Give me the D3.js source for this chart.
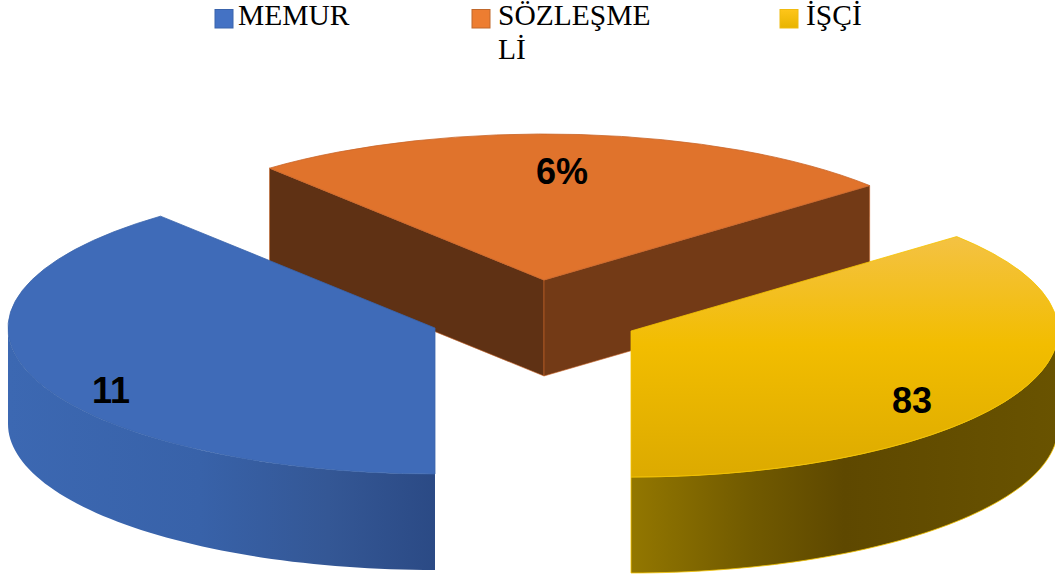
<!DOCTYPE html>
<html>
<head>
<meta charset="utf-8">
<script src="https://cdn.jsdelivr.net/npm/d3@7"></script>
<style>
  html, body { margin: 0; padding: 0; background: #fff; overflow: hidden; }
  svg { display: block; }
  .legend-text { font-family: "Liberation Serif", serif; font-size: 29.5px; fill: #000; }
  .data-label { font-family: "Liberation Sans", sans-serif; font-size: 36px; font-weight: bold; fill: #000; text-anchor: middle; }
</style>
</head>
<body>
<svg id="chart" width="1055" height="578"></svg>
<script>
(function () {
  "use strict";

  const categories = ["MEMUR", "SÖZLEŞMELİ", "İŞÇİ"];
  const legendLines = [["MEMUR"], ["SÖZLEŞME", "Lİ"], ["İŞÇİ"]];
  const dataLabels = ["11", "6%", "83"];
  // the printed labels don't match the drawn slices, so sweep is measured in degrees
  const sliceSweep = [140, 89.7, 130.3];

  const rx = 427, ry = 146, depth = 96;
  const apexes = [[435, 328], [544, 280], [631, 331]];
  const labelPos = [[111, 403], [562, 184], [912, 413]];
  const legendX = [215, 472, 780];
  const legendTextX = [238, 498, 806];

  const svg = d3.select("#chart");
  const defs = svg.append("defs");

  function gradient(id, horizontal, box, stops) {
    const g = defs.append("linearGradient")
      .attr("id", id)
      .attr("gradientUnits", "userSpaceOnUse")
      .attr("x1", horizontal ? box[0] : 0).attr("x2", horizontal ? box[1] : 0)
      .attr("y1", horizontal ? 0 : box[0]).attr("y2", horizontal ? 0 : box[1]);
    stops.forEach((s) => g.append("stop").attr("offset", s[0]).attr("stop-color", s[1]));
  }

  gradient("blue-side", true, [8, 435], [[0, "#3c68b2"], [0.45, "#3862a9"], [0.75, "#345795"], [1, "#2b4a85"]]);
  gradient("yellow-side", true, [631, 1058], [[0, "#937700"], [0.28, "#715a00"], [0.5, "#5e4800"], [1, "#695300"]]);
  // the top is drawn in a squashed group, so its gradient runs in that group's units
  gradient("yellow-top", false, [(237 - apexes[2][1]) * rx / ry, (477 - apexes[2][1]) * rx / ry],
    [[0, "#f4c243"], [0.45, "#f2bd00"], [1, "#dcaa00"]]);
  gradient("swatch-yellow", false, [9, 28], [[0, "#ffc61a"], [1, "#e8b400"]]);

  const topFill = ["#3f6bb8", "#e0732c", "url(#yellow-top)"];
  const topStroke = ["#3a64ac", "#c9662a", "#f5c400"];
  const sideFill = ["url(#blue-side)", null, "url(#yellow-side)"];
  const wallFill = ["#5f3114", "#733a16"];
  const swatchFill = ["#4472c4", "#ed7d31", "url(#swatch-yellow)"];
  const swatchStroke = ["#3a64ac", "#c0682c", "#f0bb10"];

  // legend
  const legend = svg.append("g");
  categories.forEach((c, i) => {
    legend.append("rect")
      .attr("x", legendX[i]).attr("y", 9.5)
      .attr("width", 18).attr("height", 18.5)
      .attr("fill", swatchFill[i]).attr("stroke", swatchStroke[i]).attr("stroke-width", 1);
    legendLines[i].forEach((line, j) => {
      legend.append("text")
        .attr("class", "legend-text")
        .attr("x", legendTextX[i]).attr("y", 25 + j * 34)
        .text(line);
    });
  });

  // pie, started at the bottom so MEMUR sweeps up the left side
  const pie = d3.pie().sort(null).startAngle(Math.PI).endAngle(3 * Math.PI);
  const slices = pie(sliceSweep);
  const arc = d3.arc().innerRadius(0).outerRadius(rx);

  function rimPoint(apex, a, drop) {
    return [apex[0] + rx * Math.sin(a), apex[1] - ry * Math.cos(a) + (drop || 0)];
  }

  function drawTop(parent, d, i) {
    const apex = apexes[i];
    parent.append("path")
      .attr("d", arc(d))
      .attr("transform", `translate(${apex[0]},${apex[1]}) scale(1,${ry / rx})`)
      .attr("fill", topFill[i])
      .attr("stroke", topStroke[i])
      .attr("stroke-width", 0.8)
      .attr("vector-effect", "non-scaling-stroke");
  }

  // outer rim, only the part between angles a0 and a1 that faces the viewer
  function drawRim(parent, apex, a0, a1, fill, stroke) {
    const angles = d3.range(0, 61).map((k) => a0 + (a1 - a0) * k / 60);
    const pts = angles.map((a) => rimPoint(apex, a, 0))
      .concat(angles.slice().reverse().map((a) => rimPoint(apex, a, depth)));
    parent.append("path")
      .attr("d", d3.line()(pts) + "Z")
      .attr("fill", fill)
      .attr("stroke", stroke)
      .attr("stroke-width", 0.8);
  }

  const pieLayer = svg.append("g");
  const orange = slices[1], blue = slices[0], yellow = slices[2];

  // orange slice sits behind, only its two cut faces show
  const oa = apexes[1];
  [orange.startAngle, orange.endAngle].forEach((a, k) => {
    const tip = rimPoint(oa, a, 0);
    const pts = [tip, oa, [oa[0], oa[1] + depth], [tip[0], tip[1] + depth]];
    pieLayer.append("path")
      .attr("d", d3.line()(pts) + "Z")
      .attr("fill", wallFill[k])
      .attr("stroke", "#c9662a")
      .attr("stroke-width", 0.6);
  });
  drawTop(pieLayer, orange, 1);

  drawRim(pieLayer, apexes[0], blue.startAngle, 1.5 * Math.PI, sideFill[0], "none");
  drawTop(pieLayer, blue, 0);

  // yellow runs past a full turn, its facing part starts at 2.5 pi
  drawRim(pieLayer, apexes[2], 2.5 * Math.PI, yellow.endAngle, sideFill[2], "#f5c400");
  drawTop(pieLayer, yellow, 2);

  // data labels
  svg.append("g").selectAll("text")
    .data(dataLabels)
    .join("text")
    .attr("class", "data-label")
    .attr("x", (d, i) => labelPos[i][0])
    .attr("y", (d, i) => labelPos[i][1])
    .text((d) => d);
})();
</script>
</body>
</html>
